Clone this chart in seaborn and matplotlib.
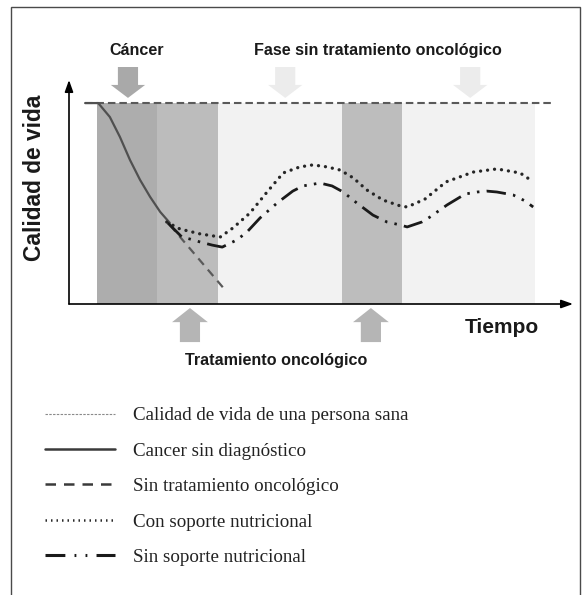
import numpy as np
import pandas as pd
import matplotlib
matplotlib.use('Agg')
import matplotlib.pyplot as plt
import seaborn as sns
from matplotlib.patches import FancyArrow, Rectangle
from matplotlib.lines import Line2D

sns.set_style('white')
plt.rcParams['font.family'] = ['Liberation Sans', 'DejaVu Sans']

# ---- datos (tiempo 0-100, calidad de vida 0-100) ----
healthy_t = [3.2, 95.8]
healthy_q = [89.9, 89.9]

cancer_t = [3.2, 5.8, 8.1, 10.1, 12.1, 14.1, 16.1, 18.1, 20.0]
cancer_q = [89.7, 89.7, 83.5, 74.6, 64.3, 55.4, 47.8, 41.1, 36.2]

no_treat_t = [20.0, 25.6, 31.3]
no_treat_q = [35.3, 20.5, 5.4]

with_nut_t = [19.4, 22.0, 26.0, 30.0, 32.5, 35.9, 39.3, 42.5, 45.8, 48.4, 51.2, 53.8,
              56.4, 59.1, 62.3, 65.7, 67.1, 70.6, 74.8, 80.2, 84.9, 89.5, 91.9]
with_nut_q = [36.6, 33.5, 31.3, 29.9, 33.9, 40.6, 50.0, 58.5, 61.2, 62.1, 61.2, 59.8,
              56.3, 50.9, 46.4, 43.8, 43.3, 46.8, 54.5, 58.9, 60.3, 58.5, 54.9]

no_nut_t = [19.6, 22.4, 24.0, 26.0, 28.4, 30.4, 33.3, 35.3, 37.9, 41.3, 44.4, 46.4,
            49.8, 52.2, 54.4, 57.1, 60.3, 63.1, 65.7, 67.1, 70.0, 71.6, 75.0, 78.6,
            81.0, 82.9, 84.9, 88.1, 90.5, 92.1]
no_nut_q = [36.2, 29.9, 29.0, 27.7, 26.3, 25.4, 28.6, 32.1, 38.4, 45.1, 50.4, 52.7,
            54.0, 52.7, 50.0, 45.1, 39.7, 36.6, 35.3, 34.4, 36.6, 38.8, 44.2, 49.1,
            50.0, 50.4, 50.0, 48.7, 46.0, 43.3]

# fases (tramos de tiempo)
band_start = [5.6, 17.5, 29.6, 54.2, 66.1]
band_end = [17.5, 29.6, 54.2, 66.1, 92.5]
band_colors = ['#adadad', '#bcbcbc', '#f2f2f2', '#bdbdbd', '#f2f2f2']

top_arrow_t = [11.7, 42.9, 79.6]
top_arrow_colors = ['#a9a9a9', '#ececec', '#ececec']
bottom_arrow_t = [24.0, 59.9]

legend_labels = ['Calidad de vida de una persona sana', 'Cancer sin diagnóstico',
                 'Sin tratamiento oncológico', 'Con soporte nutricional',
                 'Sin soporte nutricional']

W, H = 583, 595
fig = plt.figure(figsize=(W / 100, H / 100), dpi=100)
ax = fig.add_axes([69 / W, 1 - 304 / H, 504 / W, 224 / H])
ax.set_xlim(0, 100)
ax.set_ylim(0, 100)
ax.axis('off')

for x0, x1, c in zip(band_start, band_end, band_colors):
    ax.axvspan(x0, x1, ymin=0, ymax=0.899, color=c, lw=0, zorder=0)

# ejes con flecha
ax.annotate('', xy=(100, 0), xytext=(0, 0), annotation_clip=False,
            arrowprops=dict(arrowstyle='-|>,head_length=0.7,head_width=0.25',
                            color='black', lw=1.2, shrinkA=0, shrinkB=0))
ax.annotate('', xy=(0, 100), xytext=(0, 0), annotation_clip=False,
            arrowprops=dict(arrowstyle='-|>,head_length=0.7,head_width=0.25',
                            color='black', lw=1.2, shrinkA=0, shrinkB=0))

sns.lineplot(x=healthy_t, y=healthy_q, ax=ax, color='#5a5a5a', linewidth=1.5, estimator=None)
ax.lines[-1].set_dashes((3.6, 1.9))
sns.lineplot(x=cancer_t, y=cancer_q, ax=ax, color='#505050', linewidth=1.6, estimator=None)
sns.lineplot(x=no_treat_t, y=no_treat_q, ax=ax, color='#5a5a5a', linewidth=1.6, estimator=None)
ax.lines[-1].set_dashes((3.8, 2.8))
sns.lineplot(x=with_nut_t, y=with_nut_q, ax=ax, color='#262626', linewidth=2.4, estimator=None)
ax.lines[-1].set_dashes((0.01, 2.1))
ax.lines[-1].set_dash_capstyle('round')
sns.lineplot(x=no_nut_t, y=no_nut_q, ax=ax, color='#1a1a1a', linewidth=2.0, estimator=None)
ax.lines[-1].set_dashes((7.0, 2.6, 0.9, 2.6, 0.9, 2.6))

for t, c in zip(top_arrow_t, top_arrow_colors):
    ax.add_patch(FancyArrow(t, 105.8, 0, -13.8, width=4.0, head_width=6.8,
                            head_length=5.8, length_includes_head=True,
                            color=c, lw=0, clip_on=False))
for t in bottom_arrow_t:
    ax.add_patch(FancyArrow(t, -17.0, 0, 15.2, width=4.0, head_width=7.1,
                            head_length=6.3, length_includes_head=True,
                            color='#b5b5b5', lw=0, clip_on=False))

bold = dict(fontweight='bold', color='#1a1a1a', clip_on=False)
ax.text(13.5, 113.0, 'Cáncer', ha='center', va='center', fontsize=11.6, **bold)
ax.text(61.3, 113.0, 'Fase sin tratamiento oncológico', ha='center', va='center',
        fontsize=11.6, **bold)
ax.text(41.1, -25.0, 'Tratamiento oncológico', ha='center', va='center',
        fontsize=11.6, **bold)
ax.text(78.6, -10.7, 'Tiempo', ha='left', va='center', fontsize=15, **bold)
fig.text(35 / W, 1 - 178 / H, 'Calidad de vida', rotation=90, ha='center',
         va='center', fontsize=16.4, fontweight='bold', color='#1a1a1a')

# leyenda
handles = [
    Line2D([], [], color='#8a8a8a', lw=0.8, dashes=(2.2, 1.2)),
    Line2D([], [], color='#3a3a3a', lw=1.8),
    Line2D([], [], color='#3a3a3a', lw=1.8, dashes=(4.2, 3.2)),
    Line2D([], [], color='#2a2a2a', lw=1.8, dashes=(0.6, 1.6)),
    Line2D([], [], color='#1a1a1a', lw=2.2, dashes=(6.5, 3.0, 0.6, 3.0, 0.6, 3.0)),
]
fig.legend(handles, legend_labels, loc='upper left',
           bbox_to_anchor=(45 / W, 1 - 407 / H), frameon=False,
           prop={'family': 'Liberation Serif', 'size': 13.7},
           handlelength=3.7, handletextpad=0.9, labelspacing=0.95,
           borderpad=0, borderaxespad=0, labelcolor='#222222')

fig.add_artist(Rectangle((11 / W, -0.02), 569 / W, 1.02 - 7 / H,
                         transform=fig.transFigure, fill=False,
                         edgecolor='#4a4a4a', lw=1.0))

fig.savefig('out.png', dpi=100)
